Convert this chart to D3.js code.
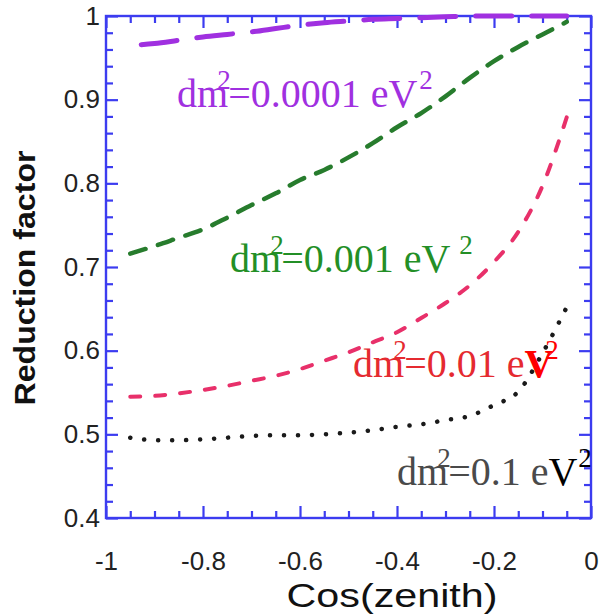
<!DOCTYPE html>
<html>
<head>
<meta charset="utf-8">
<script src="https://cdn.jsdelivr.net/npm/d3@7/dist/d3.min.js"></script>
<style>
  html, body { margin: 0; padding: 0; background: #fff; }
  svg { display: block; }
</style>
</head>
<body>
<svg id="chart" width="603" height="616"></svg>
<script>
// Zenith-angle bins shared by all four curves
const cosZenith = [-0.95, -0.9, -0.85, -0.8, -0.75, -0.7, -0.65, -0.6, -0.55, -0.5,
                   -0.45, -0.4, -0.35, -0.3, -0.25, -0.2, -0.15, -0.1, -0.05];

// Reduction factor for each mass splitting
const rf_1e4 = [0.965, 0.967, 0.971, 0.975, 0.978, 0.981, 0.985, 0.989, 0.992, 0.994,
                0.996, 0.997, 0.998, 0.999, 1.0, 1.0, 1.0, 1.0, 1.0];
const rf_1e3 = [0.716, 0.725, 0.735, 0.745, 0.759, 0.774, 0.788, 0.804, 0.816, 0.831,
                0.848, 0.867, 0.884, 0.904, 0.926, 0.946, 0.963, 0.978, 0.993];
const rf_1e2 = [0.545, 0.546, 0.549, 0.553, 0.558, 0.564, 0.570, 0.578, 0.588, 0.598,
                0.610, 0.622, 0.639, 0.657, 0.678, 0.706, 0.742, 0.797, 0.879];
const rf_1e1 = [0.496, 0.493, 0.493, 0.494, 0.496, 0.498, 0.499, 0.499, 0.500, 0.502,
                0.505, 0.509, 0.512, 0.517, 0.522, 0.535, 0.551, 0.597, 0.652];

// Axis ticks
const xMajor = [-1, -0.8, -0.6, -0.4, -0.2, 0];
const xTickLabels = ["-1", "-0.8", "-0.6", "-0.4", "-0.2", "0"];
const yMajor = [0.4, 0.5, 0.6, 0.7, 0.8, 0.9, 1.0];
const yTickLabels = ["0.4", "0.5", "0.6", "0.7", "0.8", "0.9", "1"];

// Curve annotations: mass-splitting values
const labelValues = ["0.0001", "0.001", "0.01", "0.1"];

const svg = d3.select("#chart");
const M = { left: 106, right: 591, top: 16, bottom: 518 };

const x = d3.scaleLinear().domain([-1, 0]).range([M.left, M.right]);
const y = d3.scaleLinear().domain([0.4, 1.0]).range([M.bottom, M.top]);

const frameColor = "#3c3cf0";
const xMinor = d3.range(-1, 0.0001, 0.05).map(v => +v.toFixed(2)).filter(v => !xMajor.some(m => Math.abs(m - v) < 1e-6));
const yMinor = d3.range(0.4, 1.0001, 0.02).map(v => +v.toFixed(2)).filter(v => !yMajor.some(m => Math.abs(m - v) < 1e-6));

function styleAxis(g) {
  g.select(".domain").remove();
  g.selectAll(".tick line").attr("stroke", frameColor).attr("stroke-width", 2.2);
  g.selectAll("text").attr("font-family", "Liberation Sans, Arial, sans-serif")
    .attr("font-size", 26).attr("fill", "#222");
}

// Bottom axis with labels, inward ticks
svg.append("g").attr("transform", `translate(0,${M.bottom})`)
  .call(d3.axisBottom(x).tickValues(xMajor).tickSize(-12).tickPadding(0)
    .tickFormat((d, i) => xTickLabels[i]))
  .call(styleAxis)
  .call(g => g.selectAll("text").attr("dy", null).attr("y", 52));
svg.append("g").attr("transform", `translate(0,${M.bottom})`)
  .call(d3.axisBottom(x).tickValues(xMinor).tickSize(-7).tickFormat(""))
  .call(styleAxis);
// Top axis
svg.append("g").attr("transform", `translate(0,${M.top})`)
  .call(d3.axisTop(x).tickValues(xMajor).tickSize(-12).tickFormat(""))
  .call(styleAxis);
svg.append("g").attr("transform", `translate(0,${M.top})`)
  .call(d3.axisTop(x).tickValues(xMinor).tickSize(-7).tickFormat(""))
  .call(styleAxis);
// Left axis with labels
svg.append("g").attr("transform", `translate(${M.left},0)`)
  .call(d3.axisLeft(y).tickValues(yMajor).tickSize(-12).tickPadding(0)
    .tickFormat((d, i) => yTickLabels[i]))
  .call(styleAxis)
  .call(g => g.selectAll("text").attr("x", -6));
svg.append("g").attr("transform", `translate(${M.left},0)`)
  .call(d3.axisLeft(y).tickValues(yMinor).tickSize(-7).tickFormat(""))
  .call(styleAxis);
// Right axis
svg.append("g").attr("transform", `translate(${M.right},0)`)
  .call(d3.axisRight(y).tickValues(yMajor).tickSize(-12).tickFormat(""))
  .call(styleAxis);
svg.append("g").attr("transform", `translate(${M.right},0)`)
  .call(d3.axisRight(y).tickValues(yMinor).tickSize(-7).tickFormat(""))
  .call(styleAxis);

// Frame
svg.append("rect")
  .attr("x", M.left).attr("y", M.top)
  .attr("width", M.right - M.left).attr("height", M.bottom - M.top)
  .attr("fill", "none").attr("stroke", frameColor).attr("stroke-width", 2.4);

// Curves
const line = d3.line()
  .x((d, i) => x(cosZenith[i]))
  .y(d => y(d))
  .curve(d3.curveMonotoneX);

const series = [
  { values: rf_1e4, color: "#a030e0", width: 5,   dash: "36,20", offset: 45, cap: "round" },
  { values: rf_1e3, color: "#277c2d", width: 4.5, dash: "16,13", offset: 0,  cap: "round" },
  { values: rf_1e2, color: "#e8306a", width: 4,   dash: "10,15", offset: 0,  cap: "round" },
  { values: rf_1e1, color: "#1a1a1a", width: 4.5, dash: "0.1,13.9", offset: 0, cap: "round" }
];

const plot = svg.append("g");
plot.selectAll("path.curve").data(series).join("path")
  .attr("class", "curve")
  .attr("d", d => line(d.values))
  .attr("fill", "none")
  .attr("stroke", d => d.color)
  .attr("stroke-width", d => d.width)
  .attr("stroke-dasharray", d => d.dash)
  .attr("stroke-dashoffset", d => d.offset)
  .attr("stroke-linecap", d => d.cap);

// Annotations: "dm²=<value> eV²" in a serif face, anchored in data coordinates
const annotations = [
  { text: labelValues[0], cx: -0.8536, cy: 0.8912, color: "#a030e0", vColor: "#a030e0", vBold: false, tailDx: 2 },
  { text: labelValues[1], cx: -0.7443, cy: 0.6940, color: "#238f26", vColor: "#238f26", vBold: false, tailDx: 9 },
  { text: labelValues[2], cx: -0.4907, cy: 0.5685, color: "#e52a30", vColor: "#ff0000", vBold: true, tailDx: -8 },
  { text: labelValues[3], cx: -0.4000, cy: 0.4394, color: "#4a4a4a", vColor: "#000000", vBold: false, tailDx: 1 }
];

const serif = "Liberation Serif, Times New Roman, serif";
annotations.forEach(a => {
  const x0 = x(a.cx), base = y(a.cy);
  const t = svg.append("text")
    .attr("x", x0).attr("y", base)
    .attr("font-family", serif).attr("font-size", 40);
  const dm = t.append("tspan").attr("fill", a.color).text("dm");
  t.append("tspan").attr("fill", a.color).text("=" + a.text + " e");
  t.append("tspan").attr("fill", a.vColor)
    .attr("font-weight", a.vBold ? "bold" : "normal").text("V");
  const dmW = dm.node().getComputedTextLength();
  const total = t.node().getComputedTextLength();
  // exponent over the "m"
  svg.append("text")
    .attr("x", x0 + dmW - 11).attr("y", base - 18)
    .attr("font-family", serif).attr("font-size", 27)
    .attr("fill", a.color).text("2");
  // exponent after "eV"
  svg.append("text")
    .attr("x", x0 + total + a.tailDx).attr("y", base - 18)
    .attr("font-family", serif).attr("font-size", 27)
    .attr("fill", a.vColor).text("2");
});

// Axis titles
svg.append("text")
  .attr("x", 392).attr("y", 607)
  .attr("text-anchor", "middle")
  .attr("font-family", "Liberation Sans, Arial, sans-serif")
  .attr("font-size", 34).attr("fill", "#111")
  .attr("textLength", 211).attr("lengthAdjust", "spacingAndGlyphs")
  .text("Cos(zenith)");

svg.append("text")
  .attr("transform", "translate(35,278) rotate(-90)")
  .attr("text-anchor", "middle")
  .attr("font-family", "Liberation Sans, Arial, sans-serif")
  .attr("font-size", 30).attr("font-weight", "bold").attr("fill", "#111")
  .attr("textLength", 255).attr("lengthAdjust", "spacingAndGlyphs")
  .text("Reduction factor");
</script>
</body>
</html>
